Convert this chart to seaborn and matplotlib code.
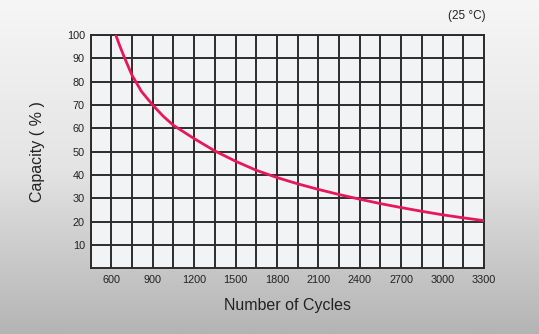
import numpy as np
import pandas as pd
import matplotlib
matplotlib.use("Agg")
import matplotlib.pyplot as plt
import seaborn as sns
from matplotlib.colors import LinearSegmentedColormap

cycles = [633, 662, 698, 750, 819, 900, 976, 1050, 1200, 1350,
          1500, 1650, 1800, 1950, 2100, 2250, 2400, 2550, 2700, 2850,
          3000, 3150, 3300]
capacity = [100, 95.3, 90, 82.8, 75.8, 70, 65.2, 61.3, 55.6, 50.3,
            45.9, 42.0, 38.9, 36.2, 33.8, 31.6, 29.6, 27.7, 26.0, 24.4,
            22.9, 21.6, 20.4]
x_ticks = [600, 900, 1200, 1500, 1800, 2100, 2400, 2700, 3000, 3300]
y_ticks = [10, 20, 30, 40, 50, 60, 70, 80, 90, 100]

df = pd.DataFrame({"Cycles": cycles, "Capacity": capacity})

sns.set_theme(style="white")
plt.rcParams['font.family'] = ['Liberation Sans', 'DejaVu Sans']

fig = plt.figure(figsize=(5.39, 3.34), dpi=100)

# gradient background
bg = fig.add_axes([0, 0, 1, 1], zorder=-10)
grad = np.linspace(0, 1, 256).reshape(-1, 1)
cmap = LinearSegmentedColormap.from_list("g", ["#f6f6f6", "#e4e4e4", "#b4b4b4"])
bg.imshow(grad, aspect="auto", cmap=cmap, extent=[0, 1, 0, 1])
bg.axis("off")

ax = fig.add_axes([0.168, 0.197, 0.730, 0.698])
ax.set_facecolor("#f2f3f5")
sns.lineplot(data=df, x="Cycles", y="Capacity", ax=ax, color="#e8175a", lw=2.0, zorder=5)

ax.set_xlim(450, 3300)
ax.set_ylim(0, 100)
ax.set_xticks(x_ticks)
ax.set_xticks(np.arange(450, 3301, 150), minor=True)
ax.set_yticks(y_ticks)
ax.grid(True, which="both", color="#2c2c2c", lw=1.4)
ax.tick_params(axis="both", which="both", length=0, labelsize=7.8, colors="#222222")
ax.tick_params(axis="x", pad=5)
ax.tick_params(axis="y", pad=4)
for s in ax.spines.values():
    s.set_color("#2c2c2c")
    s.set_linewidth(1.4)

ax.set_xlabel("Number of Cycles", fontsize=11.5, color="#222222", labelpad=9)
ax.set_ylabel("Capacity ( % )", fontsize=11.5, color="#222222", labelpad=16)
fig.text(0.866, 0.952, "(25 \u00b0C)", fontsize=8.5, color="#222222", ha="center", va="center")

fig.savefig("out.png", dpi=100)
